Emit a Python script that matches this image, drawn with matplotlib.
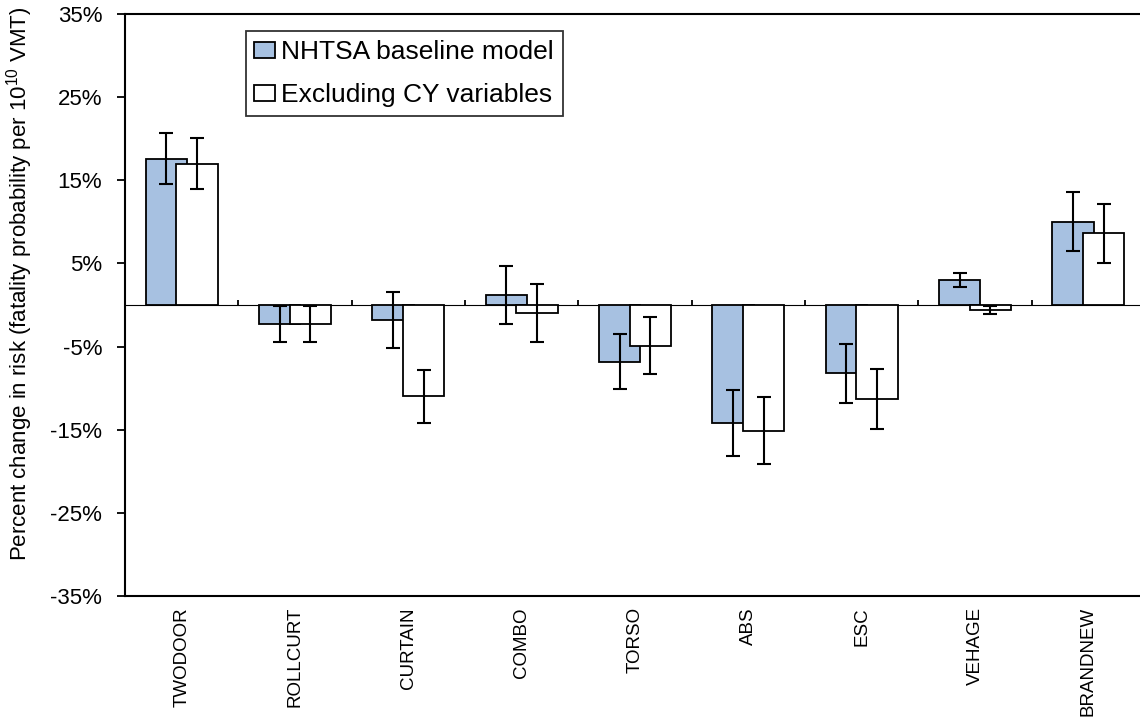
import numpy as np
import matplotlib
matplotlib.use("Agg")
import matplotlib.pyplot as plt
import matplotlib.patches as mpatches
from matplotlib.legend_handler import HandlerPatch

plt.rcParams['font.family'] = ['Liberation Sans', 'DejaVu Sans']
plt.rcParams['mathtext.fontset'] = 'custom'
plt.rcParams['mathtext.rm'] = 'Liberation Sans'
plt.rcParams['mathtext.it'] = 'Liberation Sans'

categories = ["TWODOOR", "ROLLCURT", "CURTAIN", "COMBO", "TORSO", "ABS", "ESC", "VEHAGE", "BRANDNEW"]
baseline = [17.6, -2.3, -1.8, 1.2, -6.8, -14.2, -8.2, 3.0, 10.0]
baseline_err = [3.05, 2.2, 3.4, 3.5, 3.35, 4.0, 3.55, 0.8, 3.55]
excl_cy = [17.0, -2.3, -11.0, -1.0, -4.9, -15.1, -11.3, -0.6, 8.6]
excl_cy_err = [3.05, 2.2, 3.2, 3.5, 3.4, 4.0, 3.6, 0.45, 3.5]
yticks = [35, 25, 15, 5, -5, -15, -25, -35]
ytick_labels = ["35%", "25%", "15%", "5%", "-5%", "-15%", "-25%", "-35%"]
legend_labels = ["NHTSA baseline model", "Excluding CY variables"]

blue = "#A7C1E1"
W, H = 1140, 719
fig = plt.figure(figsize=(W / 100, H / 100), dpi=100)
ax = fig.add_axes([125 / W, 1 - 596 / H, 1020 / W, 582 / H])

x = np.arange(len(categories))
bw = 0.365
off = 0.135
ekw = dict(ecolor="black", elinewidth=1.5, capsize=5, capthick=1.5)
ax.bar(x - off, baseline, bw, color=blue, edgecolor="black", linewidth=1.3,
       label=legend_labels[0], zorder=2)
ax.errorbar(x - off, baseline, yerr=baseline_err, fmt="none", zorder=3, **ekw)
ax.bar(x + off, excl_cy, bw, color="white", edgecolor="black", linewidth=1.3,
       label=legend_labels[1], zorder=4)
ax.errorbar(x + off, excl_cy, yerr=excl_cy_err, fmt="none", zorder=5, **ekw)

ax.set_xlim(-0.5, len(categories) - 0.5)
ax.set_ylim(-35, 35)
ax.set_yticks(yticks)
ax.set_yticklabels(ytick_labels, fontsize=16)
ax.tick_params(axis="y", direction="out", length=5.8, width=1.3, pad=10.5)
ax.set_xticks(x)
ax.set_xticklabels(categories, rotation=90, fontsize=13.5)
ax.tick_params(axis="x", length=0, pad=8)
for s in ["left", "top", "bottom"]:
    ax.spines[s].set_linewidth(1.5)
    ax.spines[s].set_color("black")
ax.spines["right"].set_visible(False)

# zero category axis with boundary ticks
sec = ax.secondary_xaxis(0.5)
sec.set_xticks(np.arange(len(categories) + 1) - 0.5)
sec.set_xticklabels([])
sec.tick_params(axis="x", direction="out", length=3.5, width=1.3, color="black")
sec.spines["bottom"].set_linewidth(1.5)
sec.spines["bottom"].set_color("black")
sec.spines["bottom"].set_zorder(6)

ax.set_ylabel(r"Percent change in risk (fatality probability per 10$^{10}$ VMT)",
              fontsize=16)
ax.yaxis.set_label_coords(-0.088, 0.536)


def square_handle(legend, orig_handle, xdescent, ydescent, width, height, fontsize):
    side = height
    return mpatches.Rectangle((-xdescent + width - side, -ydescent), side, side)


fs = 19
leg = ax.legend(loc="upper left", bbox_to_anchor=(0.1183, 0.970), borderaxespad=0,
                fontsize=fs, frameon=True, fancybox=False, edgecolor="black",
                handlelength=0.8, handleheight=0.52, handletextpad=0.22,
                borderpad=0.33, labelspacing=0.72,
                handler_map={mpatches.Rectangle: HandlerPatch(patch_func=square_handle)})
leg.get_frame().set_linewidth(1.3)
for p in leg.get_patches():
    p.set_linewidth(1.3)

fig.savefig("out.png", dpi=100)
